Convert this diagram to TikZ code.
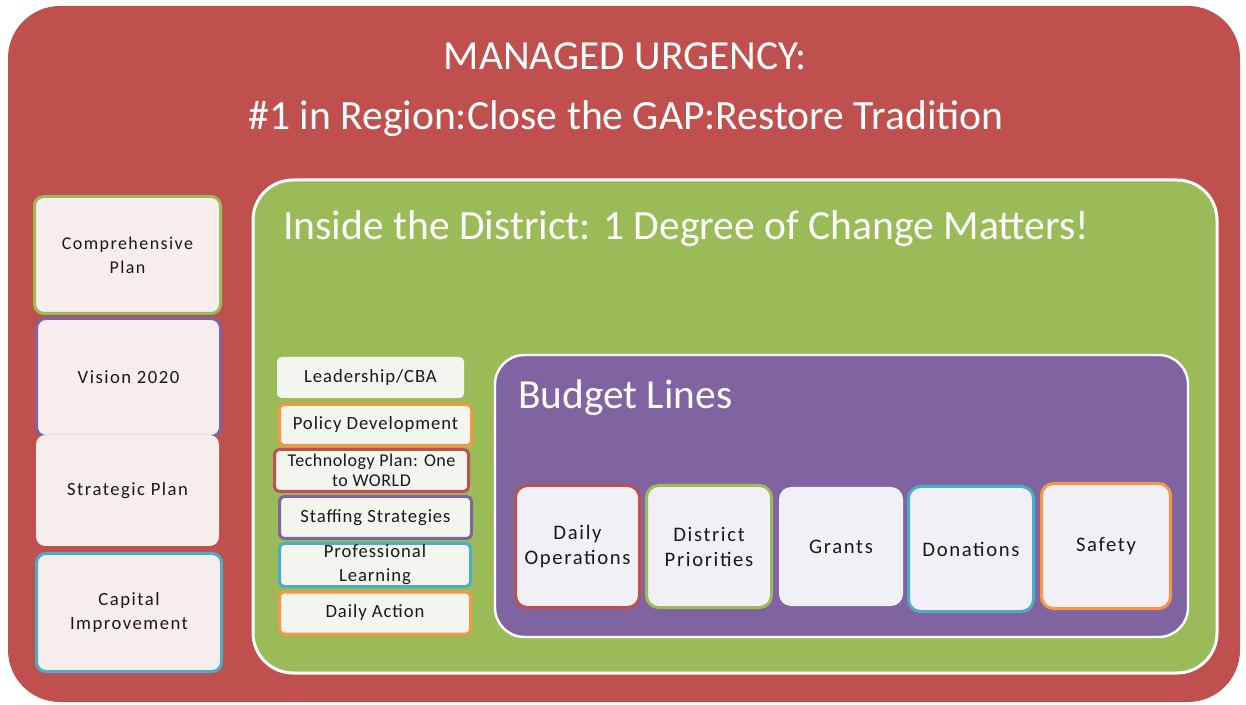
\documentclass[tikz,border=0pt]{standalone}
\usepackage{fontspec}
\setmainfont{Carlito}
\newfontfamily\sidefont[LetterSpace=8]{Carlito}
\newfontfamily\midfont[LetterSpace=5]{Carlito}
\newfontfamily\techfont[LetterSpace=3]{Carlito}
\usetikzlibrary{positioning}
\definecolor{urgred}{HTML}{C0504D}
\definecolor{distgreen}{HTML}{9BBB59}
\definecolor{budgetpurple}{HTML}{8064A2}
\definecolor{planteal}{HTML}{4BACC6}
\definecolor{actorange}{HTML}{F79646}
\definecolor{sidefill}{HTML}{F6EDED}
\definecolor{midfill}{HTML}{F3F6EE}
\definecolor{linefill}{HTML}{F1F0F6}

\begin{document}
\begin{tikzpicture}[x=0.75pt, y=-0.75pt, semithick]
        \tikzstyle{sidebox}=[rounded corners=7pt, fill=sidefill, line width=2.25pt, align=center, inner sep=0pt, text=black!90, font=\sidefont\fontsize{14}{18}\selectfont]
        \tikzstyle{midbox}=[rounded corners=3.5pt, fill=midfill, line width=2.25pt, align=center, inner sep=0pt, text=black!90, font=\midfont\fontsize{14}{15}\selectfont]
        \tikzstyle{linebox}=[rounded corners=9pt, fill=linefill, line width=2.25pt, align=center, inner sep=0pt, text=black!90, font=\sidefont\fontsize{15.5}{18.75}\selectfont]
        \tikzstyle{heading}=[text=white, inner sep=0pt]
        \useasboundingbox (0,0) rectangle (1246,705);
        % containers
        \fill[urgred, rounded corners=39pt] (8,6) rectangle (1240,702);
        \draw[white, fill=distgreen, line width=2.25pt, rounded corners=30pt] (253,180) rectangle (1217,673);
        \draw[white, fill=budgetpurple, line width=1.8pt, rounded corners=22pt] (495,355) rectangle (1188,637);
        % headings
        \node[heading, font=\fontsize{31}{36}\selectfont] (urgency) at (625,56) {MANAGED URGENCY:};
        \node[heading, font=\fontsize{31.2}{40}\selectfont] (goals) at (626,119) {\#1 in Region:Close the GAP:Restore Tradition};
        \node[heading, font=\fontsize{31.2}{40}\selectfont, anchor=west] (inside) at (283,229) {Inside the District: 1 Degree of Change Matters!};
        \node[heading, font=\fontsize{31}{40}\selectfont, anchor=west] (budget) at (518,398) {Budget Lines};
        % plans on the left
        \node[sidebox, draw=distgreen, minimum width=139.5pt, minimum height=87.75pt, font=\sidefont\fontsize{13.5}{18}\selectfont] (comp) at (127.5,255) {Comprehensive\\Plan};
        \node[sidebox, draw=budgetpurple, minimum width=138pt, minimum height=88.5pt] (vision) at (128.5,377.5) {Vision 2020};
        \node[sidebox, minimum width=137.25pt, minimum height=83.25pt] (strat) at (127.5,490.5) {Strategic Plan};
        \node[sidebox, draw=planteal, minimum width=138.75pt, minimum height=88.5pt] (capital) at (129,612.5) {Capital\\Improvement};
        % district actions
        \node[midbox, minimum width=140.25pt, minimum height=30.75pt] (lead) at (370.5,377.5) {Leadership/CBA};
        \node[midbox, draw=actorange, minimum width=144pt, minimum height=30.75pt] (policy) at (375.5,425) {Policy Development};
        \node[midbox, draw=urgred, minimum width=145.5pt, minimum height=31.5pt, font=\techfont\fontsize{13.5}{15}\selectfont] (tech) at (371.5,470.5) {Technology Plan: One\\to WORLD};
        \node[midbox, draw=budgetpurple, minimum width=144pt, minimum height=31.5pt] (staff) at (375.5,517.5) {Staffing Strategies};
        \node[midbox, draw=planteal, minimum width=143.25pt, minimum height=32.25pt, font=\midfont\fontsize{14}{18}\selectfont] (prof) at (375,565) {Professional\\Learning};
        \node[midbox, draw=actorange, minimum width=143.25pt, minimum height=31.5pt] (daction) at (375,613) {Daily Action};
        % budget lines
        \node[linebox, draw=urgred, minimum width=93pt, minimum height=91.5pt] (dailyop) at (577.5,546.5) {Daily\\Operations};
        \node[linebox, draw=distgreen, minimum width=93.75pt, minimum height=91.5pt] (priority) at (709,546.5) {District\\Priorities};
        \node[linebox, minimum width=93pt, minimum height=89.25pt] (grants) at (841,546.5) {Grants};
        \node[linebox, draw=planteal, minimum width=93.75pt, minimum height=93.75pt] (donate) at (971,549) {Donations};
        \node[linebox, draw=actorange, minimum width=96.75pt, minimum height=93.75pt] (safety) at (1106,546) {Safety};
\end{tikzpicture}
\end{document}
